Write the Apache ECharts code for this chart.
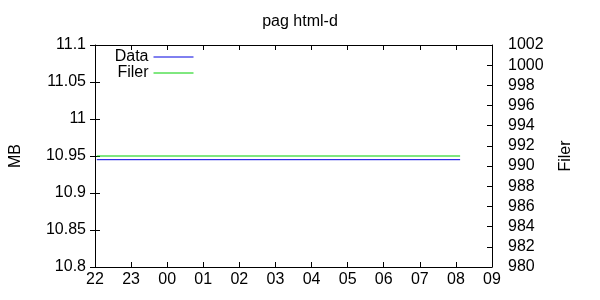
<!DOCTYPE html>
<html><head><meta charset="utf-8">
<script src="https://cdn.jsdelivr.net/npm/echarts@6/dist/echarts.min.js"></script>
<style>html,body{margin:0;padding:0;background:#fff}#c{width:600px;height:300px}</style>
</head><body><div id="c"></div>
<script>
// Data
const xTickLabels = ['22','23','00','01','02','03','04','05','06','07','08','09'];
const times = ['22:03','08:07'];          // first / last sample time
const dataMB = [10.945, 10.945];         // "Data" series (left axis, MB)
const filer = [991, 991];                // "Filer" series (right axis)

// hours since 22:00
function hoursFrom22(t){
  const [h,m] = t.split(':').map(Number);
  let v = h - 22; if (v < 0) v += 24;
  return v + m/60;
}
const xs = times.map(hoursFrom22);

const F = 'Liberation Sans, Arial, sans-serif';
const txt = {color:'#000', fontFamily:F, fontSize:16};
const legendCommon = {orient:'vertical', align:'right', right:406, padding:0, itemWidth:40, itemHeight:13,
  textStyle:txt, selectedMode:false, itemStyle:{opacity:0}, lineStyle:{width:1}};
const chart = echarts.init(document.getElementById('c'), null, {renderer:'canvas'});
chart.setOption({
  animation:false,
  backgroundColor:'#fff',
  title:{text:'pag html-d', left:'center', top:9, textStyle:{color:'#000', fontFamily:F, fontSize:16, fontWeight:'normal'}},
  grid:{left:91, right:108, top:45, bottom:33, containLabel:false, show:false},
  legend:[
    {...legendCommon, data:['Data'], top:49},
    {...legendCommon, data:['Filer'], top:65}
  ],
  xAxis:[
    {type:'value', min:0, max:11, interval:1, position:'bottom',
     axisLine:{show:true, lineStyle:{color:'#000', width:1}},
     axisTick:{show:true, inside:true, length:5, lineStyle:{color:'#000'}},
     axisLabel:{...txt, margin:5, formatter:v=>xTickLabels[Math.round(v)]},
     splitLine:{show:false}},
    {type:'value', min:0, max:11, interval:1, position:'top',
     axisLine:{show:true, onZero:false, lineStyle:{color:'#000', width:1}},
     axisTick:{show:true, inside:true, length:5, lineStyle:{color:'#000'}},
     axisLabel:{show:false}, splitLine:{show:false}}
  ],
  yAxis:[
    {type:'value', min:10.8, max:11.1, interval:0.05, position:'left',
     name:'MB', nameLocation:'middle', nameRotate:90, nameGap:71, nameTextStyle:txt,
     axisLine:{show:true, onZero:false, lineStyle:{color:'#000', width:1}},
     axisTick:{show:true, inside:true, length:5, lineStyle:{color:'#000'}},
     axisLabel:{...txt, margin:9, formatter:v=>String(+v.toFixed(2))},
     splitLine:{show:false}},
    {type:'value', min:980, max:1002, interval:2, position:'right',
     name:'Filer', nameLocation:'middle', nameRotate:90, nameGap:66, nameTextStyle:txt,
     axisLine:{show:true, onZero:false, lineStyle:{color:'#000', width:1}},
     axisTick:{show:true, inside:true, length:5, lineStyle:{color:'#000'}},
     axisLabel:{...txt, margin:16, formatter:v=>String(Math.round(v))},
     splitLine:{show:false}},
    {type:'value', min:10.8, max:11.1, interval:0.05, position:'right',
     axisLine:{show:false},
     axisTick:{show:true, inside:true, length:5, lineStyle:{color:'#000'}},
     axisLabel:{show:false}, splitLine:{show:false}}
  ],
  series:[
    {name:'Filer', type:'line', xAxisIndex:0, yAxisIndex:1, symbol:'none',
     data:xs.map((x,i)=>[x, filer[i]]),
     lineStyle:{color:'#00d000', width:1}, itemStyle:{color:'#00d000'}},
    {name:'Data', type:'line', xAxisIndex:0, yAxisIndex:0, symbol:'none',
     data:xs.map((x,i)=>[x, dataMB[i]]),
     lineStyle:{color:'#0000e0', width:1}, itemStyle:{color:'#0000e0'}}
  ]
});
</script></body></html>
